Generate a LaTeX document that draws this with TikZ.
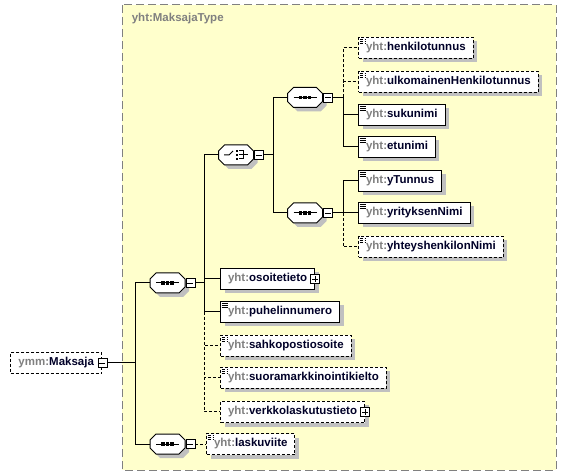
\documentclass[tikz,border=0pt]{standalone}
\usepackage{fontspec}
\setmainfont{Liberation Sans}
\usepackage{xcolor}
\usetikzlibrary{shadows, positioning}

\definecolor{typefill}{RGB}{255,255,204}
\definecolor{pfx}{RGB}{128,128,128}
\definecolor{ename}{RGB}{0,0,40}
\definecolor{shade}{RGB}{192,192,192}
\newcommand{\yht}{\textcolor{pfx}{yht:}}

\begin{document}
\begin{tikzpicture}[x=1pt, y=-1pt, line width=1pt,
  every node/.style={font=\fontsize{11.5}{13}\selectfont\bfseries},
  elem/.style={draw, fill=white, text=ename, anchor=west,
    minimum height=21pt, inner xsep=7.5pt, inner ysep=0pt,
    drop shadow={shadow xshift=4pt, shadow yshift=-4pt, fill=shade, opacity=1}},
  root/.style={draw, fill=white, text=ename, anchor=west,
    minimum height=21pt, inner xsep=8pt, inner ysep=0pt},
  opt/.style={dash pattern=on 3pt off 2pt},
  leaf/.style={path picture={
      \foreach \d in {1.5,3.5,5.5}
        \draw[line width=0.8pt] (path picture bounding box.north west) ++(1,\d) -- ++(6,0);}},
  octa/.style={insert path={++(-11.5,-10) -- ++(23,0) -- ++(6,6) -- ++(0,8)
      -- ++(-6,6) -- ++(-23,0) -- ++(-6,-6) -- ++(0,-8) -- cycle}},
  octbox/.style={draw, fill=white,
    drop shadow={shadow xshift=4pt, shadow yshift=-4pt, fill=shade, opacity=1}},
  comp/.style={minimum width=35pt, minimum height=20pt, inner sep=0pt},
  seq/.style={comp, path picture={
      \draw (path picture bounding box.center) ++(-11.5,0) -- ++(23,0);
      \foreach \d in {-4.5,0,4.5}
        \fill (path picture bounding box.center) ++(\d,0) +(-1.8,-1.8) rectangle +(1.8,1.8);}},
  choice/.style={comp, path picture={
      \draw (path picture bounding box.center) ++(-12,0) -- ++(5,0) -- ++(4,-4);
      \foreach \d in {-4,0,4}
        \fill (path picture bounding box.center) ++(1,\d) +(-1.4,-1.4) rectangle +(1.4,1.4);
      \draw (path picture bounding box.center) ++(3,-4) -- ++(4,0) -- ++(0,8) -- ++(-4,0);
      \draw (path picture bounding box.center) ++(3,0) -- ++(9,0);}},
  mbox/.style={draw, fill=white, minimum size=9pt, inner sep=0pt, line width=0.8pt,
    path picture={\draw (path picture bounding box.center) ++(-3,0) -- ++(6,0);}},
  pbox/.style={mbox, path picture={
      \draw (path picture bounding box.center) ++(-3,0) -- ++(6,0);
      \draw (path picture bounding box.center) ++(0,-3) -- ++(0,6);}},
  typebox/.style={draw=pfx, fill=typefill, dash pattern=on 8pt off 4pt}
  ]
  \useasboundingbox[fill=white] (0,0) rectangle (566,476);

  % complex type
  \draw[typebox] (122,5) rectangle (556,470);
  \node[anchor=west, text=pfx] (tp) at (128,19) {yht:MaksajaType};

  % root element
  \node[root, opt] (mk) at (10,363) {\textcolor{pfx}{ymm:}Maksaja\hspace{4pt}};
  \node[mbox] (mkm) at (mk.east) {};

  % compositors
  \foreach \p in {(167.5,283), (236,155), (305,97.5), (305,213), (167.5,444)}
    \draw[octbox] \p [octa];
  \node[seq] (s1) at (167.5,283) {};
  \node[mbox, right=0pt of s1] (s1m) {};
  \node[choice] (ch) at (236,155) {};
  \node[mbox, right=0pt of ch] (chm) {};
  \node[seq] (s2) at (305,97.5) {};
  \node[mbox, right=0pt of s2] (s2m) {};
  \node[seq] (s3) at (305,213) {};
  \node[mbox, right=0pt of s3] (s3m) {};
  \node[seq] (s4) at (167.5,444) {};
  \node[mbox, right=0pt of s4] (s4m) {};

  % elements
  \node[elem, opt, leaf] (he) at (358,48) {\yht henkilotunnus};
  \node[elem, opt, leaf] (uh) at (358,82) {\yht ulkomainenHenkilotunnus};
  \node[elem, leaf] (su) at (358,115) {\yht sukunimi};
  \node[elem, leaf] (et) at (358,147) {\yht etunimi};
  \node[elem, leaf] (yt) at (358,181) {\yht yTunnus};
  \node[elem, leaf] (yn) at (358,213) {\yht yrityksenNimi};
  \node[elem, opt, leaf] (yh) at (358,247) {\yht yhteyshenkilonNimi};
  \node[elem] (os) at (220,279) {\yht osoitetieto\hspace{5pt}};
  \node[pbox] (osp) at (os.east) {};
  \node[elem, leaf] (ph) at (220,312) {\yht puhelinnumero};
  \node[elem, opt, leaf] (sp) at (220,346) {\yht sahkopostiosoite};
  \node[elem, opt, leaf] (sm) at (220,378) {\yht suoramarkkinointikielto};
  \node[elem, opt] (vl) at (220,412) {\yht verkkolaskutustieto\hspace{5pt}};
  \node[pbox] (vlp) at (vl.east) {};
  \node[elem, opt, leaf] (lv) at (206,444) {\yht laskuviite};

  % connectors
  \coordinate (b0) at (135,363);
  \draw (mkm.east) -- (b0) |- (s1.west);
  \draw (b0) |- (s4.west);
  \coordinate (b1) at (204,283);
  \draw (s1m.east) -- (b1) |- (ch.west);
  \draw (b1) |- (os.west);
  \draw (b1) |- (ph.west);
  \draw[opt] (b1 |- ph.west) |- (sp.west);
  \draw[opt] (b1 |- ph.west) |- (sm.west);
  \draw[opt] (b1 |- ph.west) |- (vl.west);
  \coordinate (b2) at (273,155);
  \draw (chm.east) -- (b2) |- (s2.west);
  \draw (b2) |- (s3.west);
  \coordinate (b3) at (343,97.5);
  \draw (s2m.east) -- (b3) |- (su.west);
  \draw (b3) |- (et.west);
  \draw[opt] (b3) |- (he.west);
  \draw[opt] (b3) |- (uh.west);
  \coordinate (b4) at (343,213);
  \draw (s3m.east) -- (b4) |- (yt.west);
  \draw (b4) -- (yn.west);
  \draw[opt] (b4) |- (yh.west);
  \draw[opt] (s4m.east) -- (lv.west);
\end{tikzpicture}
\end{document}
